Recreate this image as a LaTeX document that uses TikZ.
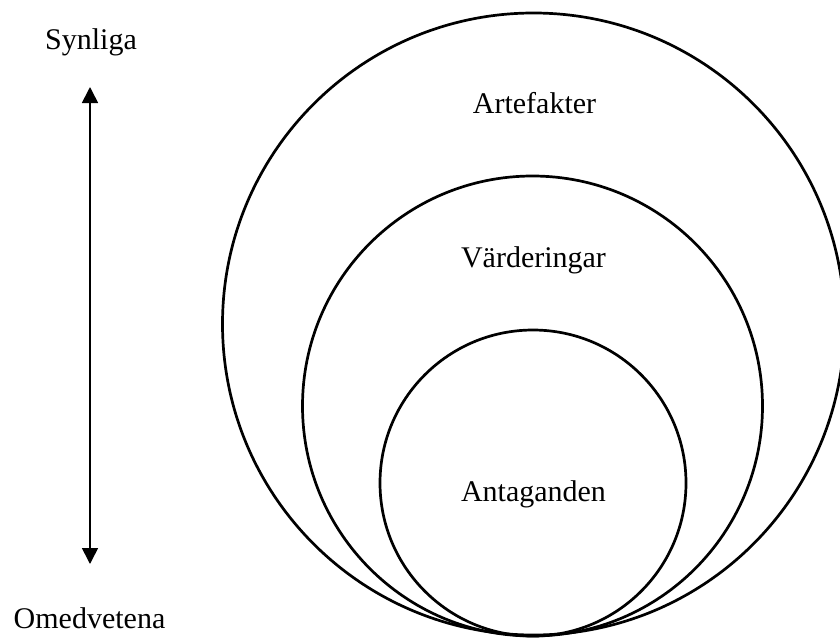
\documentclass[tikz,border=0pt]{standalone}
\usepackage{fontspec}
\setmainfont{Liberation Serif}
\usetikzlibrary{arrows.meta}
\begin{document}
\begin{tikzpicture}[x=1pt,y=-1pt,
  ring/.style={draw=black, circle, line width=2.7pt, inner sep=0pt},
  lbl/.style={anchor=base, inner sep=0pt, font=\fontsize{30}{36}\selectfont, text=black},
  axis/.style={line width=1.6pt, {Triangle[length=16pt,width=16pt]}-{Triangle[length=16pt,width=16pt]}}]
\useasboundingbox (0,0) rectangle (840,642);
\node[ring, minimum size=622pt] (outer) at (533.5,324) {};
\node[ring, minimum size=460pt] (middle) at (532.5,406) {};
\node[ring, minimum size=306pt] (inner) at (533,483) {};
\node[lbl] (art) at (534.5,113) {Artefakter};
\node[lbl] (var) at (533.5,267) {Värderingar};
\node[lbl] (ant) at (533.5,501) {Antaganden};
\node[lbl] (syn) at (91,50) {Synliga};
\node[lbl] (ome) at (89.5,628) {Omedvetena};
\coordinate (up) at (90,87);
\coordinate (down) at (90,564);
\draw[axis] (up) -- (down);
\end{tikzpicture}
\end{document}
